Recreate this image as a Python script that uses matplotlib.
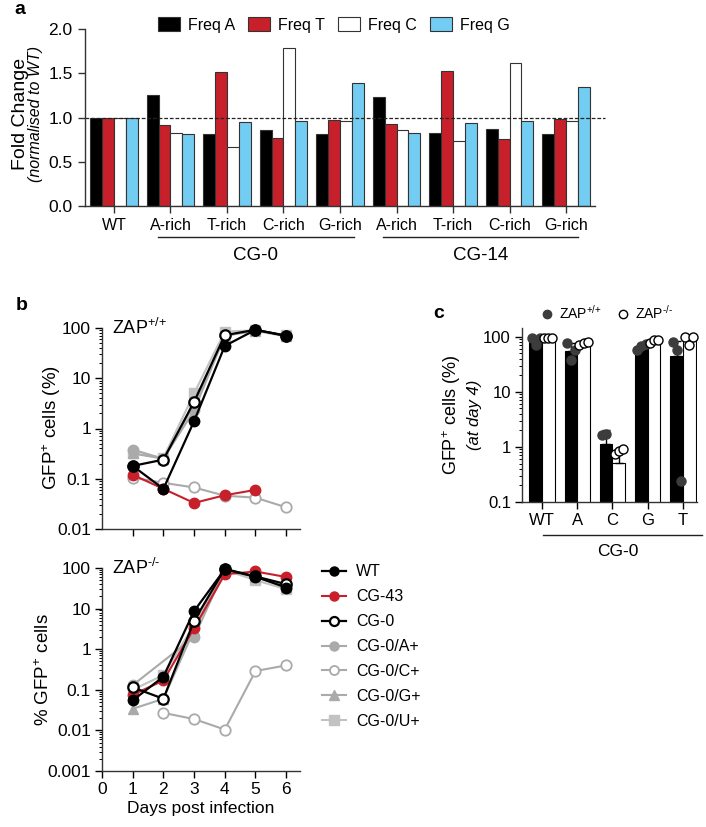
import matplotlib
matplotlib.use('Agg')
import matplotlib.pyplot as plt
from matplotlib.lines import Line2D
import numpy as np

plt.rcParams['font.family'] = ['Liberation Sans', 'DejaVu Sans']
plt.rcParams['mathtext.fontset'] = 'custom'
plt.rcParams['mathtext.rm'] = 'Liberation Sans'
plt.rcParams['mathtext.it'] = 'Liberation Sans:italic'
plt.rcParams['axes.linewidth'] = 1.0
plt.rcParams['axes.edgecolor'] = '#333333'

# ---- panel a data
groups_a = ['WT', 'A-rich', 'T-rich', 'C-rich', 'G-rich', 'A-rich', 'T-rich', 'C-rich', 'G-rich']
freq_a = [1.00, 1.25, 0.81, 0.86, 0.81, 1.23, 0.83, 0.87, 0.81]
freq_t = [1.00, 0.91, 1.51, 0.77, 0.97, 0.93, 1.52, 0.76, 0.98]
freq_c = [0.99, 0.82, 0.67, 1.78, 0.96, 0.86, 0.73, 1.62, 0.96]
freq_g = [1.00, 0.81, 0.95, 0.96, 1.39, 0.82, 0.94, 0.96, 1.34]

# ---- panel b data (ZAP+/+ top, ZAP-/- bottom)
days = [1, 2, 3, 4, 5, 6]
wt_pos = [0.18, 0.063, 1.4, 44, 92, 70]
cg43_pos = [0.12, 0.063, 0.033, 0.047, 0.06]
cg0_pos = [0.18, 0.24, 3.4, 72, 92, 70]
a_pos = [0.38, 0.25, 2.3, 70, 90, 70]
c_pos = [0.105, 0.083, 0.067, 0.046, 0.042, 0.027]
g_pos = [0.32, 0.25, 3.0, 70, 88, 68]
u_pos = [0.32, 0.26, 5.0, 85, 90, 72]

wt_neg = [0.055, 0.21, 8.7, 93, 61, 33]
cg43_neg = [0.075, 0.17, 3.3, 70, 82, 60]
cg0_neg = [0.115, 0.06, 5.0, 95, 62, 40]
a_neg = [0.13, 2.0, 90, 60, 35]
c_neg = [0.027, 0.019, 0.0105, 0.29, 0.40]
g_neg = [0.034, 0.06, 3.0, 90, 60, 35]
u_neg = [0.10, 0.23, 4.0, 90, 50, 30]

# ---- panel c data
c_labels = ['WT', 'A', 'C', 'G', 'T']
pos_mean = [90, 56, 1.12, 65, 45]
neg_mean = [92, 75, 0.52, 82, 88]
pos_err = [8, 20, 0.9, 8, 40]
neg_err = [3, 5, 0.35, 6, 15]
pos_pts = [[97, 70, 95], [79, 38, 58], [1.65, 1.75], [57, 68, 74], [81, 58, 0.24]]
neg_pts = [[96, 96, 96], [72, 78, 80], [0.75, 0.85, 0.9], [78, 88, 86], [98, 70, 98]]

RED = '#C8202B'
BLUE = '#73CDF2'
GRAY = '#AAAAAA'
LGRAY = '#C2C2C2'

W, H = 706, 827
fig = plt.figure(figsize=(W / 100, H / 100), dpi=100)


def fx(p):
    return p / W


def fy(p):
    return 1 - p / H


def box(l, t, r, b):
    return [fx(l), fy(b), fx(r) - fx(l), fy(t) - fy(b)]


def hline(x0, x1, y):
    fig.add_artist(Line2D([fx(x0), fx(x1)], [fy(y), fy(y)], color='#222222', lw=1.0))


# ================= panel a
ax = fig.add_axes(box(85, 29, 595, 206))
x = np.arange(len(groups_a))
bw = 0.21
series = [(freq_a, 'black', 'Freq A'), (freq_t, RED, 'Freq T'),
          (freq_c, 'white', 'Freq C'), (freq_g, BLUE, 'Freq G')]
for k, (vals, col, lab) in enumerate(series):
    ax.bar(x + (k - 1.5) * bw, vals, bw, color=col, edgecolor='#333333', linewidth=0.8, label=lab)
ax.axhline(1.0, xmin=0, xmax=1.02, color='#222222', lw=0.9, ls=(0, (3, 1.5)), clip_on=False)
ax.set_xlim(-0.513, 8.513)
ax.set_ylim(0, 2.0)
ax.set_yticks([0, 0.5, 1.0, 1.5, 2.0])
ax.set_yticklabels(['0.0', '0.5', '1.0', '1.5', '2.0'], fontsize=12.5)
ax.set_xticks(x)
ax.set_xticklabels(groups_a, fontsize=11.5)
ax.tick_params(length=5, width=1.0, color='#333333', pad=4)
for s in ['top', 'right']:
    ax.spines[s].set_visible(False)
fig.legend(loc='center', bbox_to_anchor=(fx(334), fy(25)), ncol=4, frameon=False,
           fontsize=11.5, handlelength=1.4, handleheight=1.0, handletextpad=0.5,
           columnspacing=0.8, borderaxespad=0)
fig.text(fx(21), fy(114), 'Fold Change', rotation=90, ha='center', va='center', fontsize=14)
fig.text(fx(36), fy(114), '(normalised to WT)', rotation=90, ha='center', va='center',
         fontsize=11.5, style='italic')
hline(158, 354, 237)
hline(383, 578, 237)
fig.text(fx(256), fy(256), 'CG-0', ha='center', va='center', fontsize=13.5)
fig.text(fx(481), fy(256), 'CG-14', ha='center', va='center', fontsize=13.5)
fig.text(fx(20), fy(9), 'a', ha='center', va='center', fontsize=14, fontweight='bold')

# ================= panel b
st_wt = dict(color='black', marker='o', mfc='black', mec='black', lw=1.6)
st_43 = dict(color=RED, marker='o', mfc=RED, mec=RED, lw=1.5)
st_0 = dict(color='black', marker='o', mfc='white', mec='black', lw=1.6, mew=1.6)
st_a = dict(color=GRAY, marker='o', mfc=GRAY, mec=GRAY, lw=1.5)
st_c = dict(color=GRAY, marker='o', mfc='white', mec=GRAY, lw=1.5, mew=1.3)
st_g = dict(color=GRAY, marker='^', mfc=GRAY, mec=GRAY, lw=1.5)
st_u = dict(color=LGRAY, marker='s', mfc=LGRAY, mec=LGRAY, lw=1.5)

axt = fig.add_axes(box(102, 328, 300, 529))
axb = fig.add_axes(box(102, 568, 300, 771))
# drawing order: grey variants underneath, WT on top
top_series = [(days, u_pos, st_u), (days, g_pos, st_g), (days, a_pos, st_a), (days, c_pos, st_c),
              (days[:5], cg43_pos, st_43), (days, cg0_pos, st_0), (days, wt_pos, st_wt)]
bot_series = [(days, u_neg, st_u), (days, g_neg, st_g), ([1, 3, 4, 5, 6], a_neg, st_a),
              (days[1:], c_neg, st_c), (days, cg43_neg, st_43), (days, cg0_neg, st_0),
              (days, wt_neg, st_wt)]
for d, v, st in top_series:
    axt.plot(d, v, ms=7.5, clip_on=False, **st)
for d, v, st in bot_series:
    axb.plot(d, v, ms=7.5, clip_on=False, **st)

for a_, lo in [(axt, 0.01), (axb, 0.001)]:
    a_.set_yscale('log')
    a_.set_ylim(lo, 100)
    a_.set_xlim(0, 6.45)
    for s in ['top', 'right']:
        a_.spines[s].set_visible(False)
    a_.tick_params(which='major', length=5, width=1.0, labelsize=12.5, pad=3)
    a_.tick_params(which='minor', length=2.5, width=0.7)
    a_.yaxis.set_major_formatter(matplotlib.ticker.FuncFormatter(lambda v, p: '%g' % v))
    a_.yaxis.set_minor_formatter(matplotlib.ticker.NullFormatter())
axt.set_xticks([1, 2, 3, 4, 5, 6])
axt.set_xticklabels([])
axb.set_xticks([0, 1, 2, 3, 4, 5, 6])
axb.set_xlabel('Days post infection', fontsize=12.5, labelpad=3)
axt.text(0.05, 1.0, r'ZAP$^{\text{+/+}}$', transform=axt.transAxes, fontsize=13, va='center', ha='left')
axb.text(0.05, 1.0, r'ZAP$^{\text{-/-}}$', transform=axb.transAxes, fontsize=13, va='center', ha='left')
fig.text(fx(52), fy(428), 'GFP$^{+}$ cells (%)', rotation=90, ha='center', va='center', fontsize=13.5)
fig.text(fx(44), fy(670), '% GFP$^{+}$ cells', rotation=90, ha='center', va='center', fontsize=13.5)
fig.text(fx(22), fy(305), 'b', ha='center', va='center', fontsize=14, fontweight='bold')

leg_b = [('WT', st_wt), ('CG-43', st_43), ('CG-0', st_0), ('CG-0/A+', st_a),
         ('CG-0/C+', st_c), ('CG-0/G+', st_g), ('CG-0/U+', st_u)]
handles = [Line2D([], [], ms=6.5, label=lab, **st) for lab, st in leg_b]
fig.legend(handles=handles, loc='upper left', bbox_to_anchor=(fx(316), fy(558)), frameon=False,
           fontsize=11.5, handlelength=1.5, handletextpad=0.6, labelspacing=0.62, borderaxespad=0)

# ================= panel c
axc = fig.add_axes(box(522, 328, 697, 502))
xc = np.arange(len(c_labels))
cw = 0.355
axc.bar(xc - cw / 2, pos_mean, cw, color='black', edgecolor='black', linewidth=0.8, zorder=2)
axc.bar(xc + cw / 2, neg_mean, cw, color='white', edgecolor='black', linewidth=0.8, zorder=2)
axc.errorbar(xc - cw / 2, pos_mean, yerr=[np.zeros(len(xc)), pos_err], fmt='none', ecolor='black',
             elinewidth=1.0, capsize=3, zorder=3)
axc.errorbar(xc + cw / 2, neg_mean, yerr=[np.zeros(len(xc)), neg_err], fmt='none', ecolor='black',
             elinewidth=1.0, capsize=3, zorder=3)
jit = [-0.12, 0.0, 0.12]
for i in range(len(c_labels)):
    for j, v in enumerate(pos_pts[i]):
        axc.plot(xc[i] - cw / 2 + jit[j], v, 'o', ms=6.5, mfc='#3C3C3C', mec='#3C3C3C', zorder=4, clip_on=False)
    for j, v in enumerate(neg_pts[i]):
        axc.plot(xc[i] + cw / 2 + jit[j], v, 'o', ms=6.5, mfc='white', mec='black', mew=1.0, zorder=4, clip_on=False)
axc.set_yscale('log')
axc.set_ylim(0.1, 145)
axc.set_xlim(-0.567, 4.397)
axc.set_xticks(xc)
axc.set_xticklabels(c_labels, fontsize=12)
axc.set_yticks([0.1, 1, 10, 100])
axc.set_yticklabels(['0.1', '1', '10', '100'], fontsize=12)
axc.yaxis.set_minor_formatter(matplotlib.ticker.NullFormatter())
axc.tick_params(which='major', length=5, width=1.0, pad=3)
axc.tick_params(which='minor', length=2.5, width=0.7)
for s in ['top', 'right']:
    axc.spines[s].set_visible(False)
hline(543, 702, 535)
fig.text(fx(618), fy(551), 'CG-0', ha='center', va='center', fontsize=12.5)
fig.text(fx(452), fy(415), 'GFP$^{+}$ cells (%)', rotation=90, ha='center', va='center', fontsize=13)
fig.text(fx(474), fy(415), '(at day 4)', rotation=90, ha='center', va='center', fontsize=12, style='italic')
fig.text(fx(439), fy(314), 'c', ha='center', va='center', fontsize=14, fontweight='bold')
leg_c = [Line2D([], [], ls='none', marker='o', ms=6, mfc='#3C3C3C', mec='#3C3C3C', label=r'ZAP$^{\text{+/+}}$'),
         Line2D([], [], ls='none', marker='o', ms=6, mfc='white', mec='black', label=r'ZAP$^{\text{-/-}}$')]
fig.legend(handles=leg_c, loc='center left', bbox_to_anchor=(fx(534), fy(313)), ncol=2, frameon=False,
           fontsize=10, handlelength=1.0, handletextpad=0.4, columnspacing=1.0, borderaxespad=0)

fig.savefig('out.png', dpi=100)
